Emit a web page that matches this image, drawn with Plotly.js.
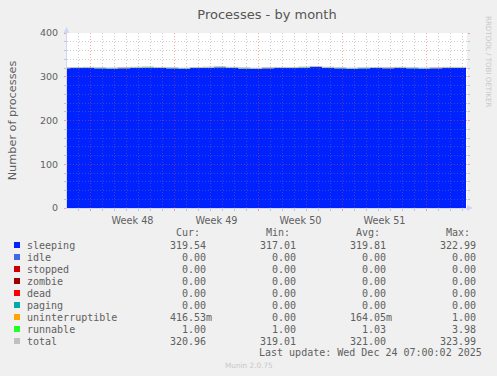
<!DOCTYPE html>
<html><head><meta charset="utf-8">
<script src="https://cdn.plot.ly/plotly-3.0.1.min.js"></script>
<style>html,body{margin:0;padding:0;background:#f0f0f0;}#chart{width:497px;height:376px;}</style>
</head><body><div id="chart"></div>
<script>
// ---------- data ----------
const times = ["2025-11-22 01:00","2025-11-22 07:00","2025-11-23 07:00","2025-11-24 07:00","2025-11-25 07:00","2025-11-26 07:00","2025-11-27 07:00","2025-11-28 07:00","2025-11-29 07:00","2025-11-30 07:00","2025-12-01 07:00","2025-12-02 07:00","2025-12-03 07:00","2025-12-04 07:00","2025-12-05 07:00","2025-12-06 07:00","2025-12-07 07:00","2025-12-08 07:00","2025-12-09 07:00","2025-12-10 07:00","2025-12-11 07:00","2025-12-12 07:00","2025-12-13 07:00","2025-12-14 07:00","2025-12-15 07:00","2025-12-16 07:00","2025-12-17 07:00","2025-12-18 07:00","2025-12-19 07:00","2025-12-20 07:00","2025-12-21 07:00","2025-12-22 07:00","2025-12-23 07:00","2025-12-24 07:00","2025-12-25 07:00"];
const sleeping = [319.6,319.8,320.3,319.4,318.9,319.7,320.5,321.2,320.1,319.3,318.6,319.9,320.7,321.5,320.4,319.1,318.2,319.6,320.2,319.8,320.9,322.1,320.6,319.4,318.5,319.2,320.0,319.7,320.4,319.5,318.8,319.6,320.3,319.9,319.5];
const idle = [0,0,0,0,0,0,0,0,0,0,0,0,0,0,0,0,0,0,0,0,0,0,0,0,0,0,0,0,0,0,0,0,0,0,0];
const stopped = [0,0,0,0,0,0,0,0,0,0,0,0,0,0,0,0,0,0,0,0,0,0,0,0,0,0,0,0,0,0,0,0,0,0,0];
const zombie = [0,0,0,0,0,0,0,0,0,0,0,0,0,0,0,0,0,0,0,0,0,0,0,0,0,0,0,0,0,0,0,0,0,0,0];
const dead = [0,0,0,0,0,0,0,0,0,0,0,0,0,0,0,0,0,0,0,0,0,0,0,0,0,0,0,0,0,0,0,0,0,0,0];
const paging = [0,0,0,0,0,0,0,0,0,0,0,0,0,0,0,0,0,0,0,0,0,0,0,0,0,0,0,0,0,0,0,0,0,0,0];
const uninterruptible = [0.12,0.15,0.18,0.10,0.14,0.20,0.16,0.13,0.19,0.22,0.15,0.12,0.17,0.14,0.16,0.21,0.18,0.13,0.15,0.17,0.19,0.14,0.16,0.12,0.18,0.15,0.20,0.16,0.14,0.17,0.13,0.19,0.22,0.35,0.42];
const runnable = [1.02,1.03,1.05,1.02,1.01,1.04,1.03,1.06,1.02,1.03,1.01,1.04,1.02,1.05,1.03,1.02,1.01,1.03,1.04,1.02,1.06,1.03,1.02,1.01,1.04,1.03,1.02,1.05,1.03,1.02,1.04,1.03,1.02,1.01,1.00];
const total = [320.74,320.98,321.53,320.52,320.05,320.94,321.69,322.39,321.31,320.55,319.76,321.06,321.89,322.69,321.59,320.33,319.39,320.76,321.39,320.99,322.15,323.27,321.78,320.53,319.72,320.38,321.22,320.91,321.57,320.69,319.97,320.82,321.54,321.26,320.92];

const seriesNames = ["sleeping","idle","stopped","zombie","dead","paging","uninterruptible","runnable","total"];
const seriesColors = ["#0022ff","#4169e1","#cc0000","#990000","#ff0000","#00aaaa","#ffa500","#22ff22","#c0c0c0"];
const curValues = ["319.54","0.00","0.00","0.00","0.00","0.00","416.53m","1.00","320.96"];
const minValues = ["317.01","0.00","0.00","0.00","0.00","0.00","0.00","1.00","319.01"];
const avgValues = ["319.81","0.00","0.00","0.00","0.00","0.00","164.05m","1.03","321.00"];
const maxValues = ["322.99","0.00","0.00","0.00","0.00","0.00","1.00","3.98","323.99"];
const colHeaders = ["Cur:","Min:","Avg:","Max:"];

const weekTickVals = ["2025-11-27 12:00","2025-12-04 12:00","2025-12-11 12:00","2025-12-18 12:00"];
const weekTickText = ["Week 48","Week 49","Week 50","Week 51"];
const yTickVals = [0,100,200,300,400];
const xRange = ["2025-11-22 01:00","2025-12-25 09:00"];
const yRange = [0,400];

// ---------- layout helpers ----------
const W=497, H=376, PL=67, PR=467, PT=33, PB=208;
const px2x = p => (p-PL)/(PR-PL);
const py2y = p => (PB-p)/(PB-PT);
const FONT = "DejaVu Sans, Verdana, sans-serif";
const MONO = "DejaVu Sans Mono, monospace";
const TXT = "#606060";

const stackSeries = [sleeping, idle, stopped, zombie, dead, paging, uninterruptible, runnable];
const traces = stackSeries.map((s,i)=>({
  type:"scatter", mode:"lines", x:times, y:s, name:seriesNames[i],
  stackgroup:"procs", line:{width:0, color:seriesColors[i], shape:"hv"},
  fillcolor:seriesColors[i], xaxis:"x", yaxis:"y", hoverinfo:"skip"
}));
traces.push({type:"scatter", mode:"lines", x:times, y:total, name:seriesNames[8],
  line:{width:1, color:seriesColors[8], shape:"hv"}, xaxis:"x", yaxis:"y", hoverinfo:"skip"});
// empty trace for grid overlay subplot
traces.push({type:"scatter", mode:"lines", x:[], y:[], xaxis:"x2", yaxis:"y2", showlegend:false, hoverinfo:"skip"});

const annotations = [];
const shapes = [];
// white canvas
shapes.push({type:"rect", xref:"x domain", yref:"y domain", x0:0, x1:1, y0:0, y1:1, fillcolor:"#ffffff", line:{width:0}, layer:"below"});

// legend table
const colRight = [206.5, 296.5, 386.5, 476.5];
const rowY0 = 245, rowStep = 12, headerY = 232;
colHeaders.forEach((h,j)=>annotations.push({xref:"paper", yref:"paper", x:px2x(colRight[j]-6), y:py2y(headerY), xanchor:"right", yanchor:"middle", text:h, showarrow:false, font:{family:MONO, size:10, color:TXT}, borderpad:0}));
const cols = [curValues, minValues, avgValues, maxValues];
seriesNames.forEach((n,i)=>{
  const yc = rowY0 + i*rowStep;
  shapes.push({type:"rect", xref:"paper", yref:"paper", x0:px2x(14), x1:px2x(20), y0:py2y(yc+3), y1:py2y(yc-3), fillcolor:seriesColors[i], line:{width:0}});
  annotations.push({xref:"paper", yref:"paper", x:px2x(26), y:py2y(yc), xanchor:"left", yanchor:"middle", text:n, showarrow:false, font:{family:MONO, size:10, color:TXT}, borderpad:0});
  cols.forEach((c,j)=>{
    const v = c[i];
    const shift = /[a-zA-Z]$/.test(v) ? 6 : 0;
    annotations.push({xref:"paper", yref:"paper", x:px2x(colRight[j]+shift), y:py2y(yc), xanchor:"right", yanchor:"middle", text:v, showarrow:false, font:{family:MONO, size:10, color:TXT}, borderpad:0});
  });
});
annotations.push({xref:"paper", yref:"paper", x:px2x(483), y:py2y(352.5), xanchor:"right", yanchor:"middle", text:"Last update: Wed Dec 24 07:00:02 2025", showarrow:false, font:{family:MONO, size:10, color:TXT}, borderpad:0});
annotations.push({xref:"paper", yref:"paper", x:px2x(248.7), y:py2y(365.3), xanchor:"center", yanchor:"middle", text:"Munin 2.0.75", showarrow:false, font:{family:FONT, size:7.3, color:"#c8c8c8"}, borderpad:0});
annotations.push({xref:"paper", yref:"paper", x:px2x(489), y:py2y(61), xanchor:"center", yanchor:"middle", text:"RRDTOOL / TOBI OETIKER", textangle:90, showarrow:false, font:{family:FONT, size:7.1, color:"#c8c8c8"}, borderpad:0});
// axis arrows
annotations.push({xref:"paper", yref:"paper", x:px2x(66.5), y:py2y(27), ax:0, ay:8, text:"", showarrow:true, arrowhead:2, arrowsize:1.2, arrowwidth:1, arrowcolor:"#CFD6F8"});
annotations.push({xref:"paper", yref:"paper", x:px2x(473), y:py2y(208), ax:-8, ay:0, text:"", showarrow:true, arrowhead:2, arrowsize:1.2, arrowwidth:1, arrowcolor:"#CFD6F8"});

const gridMinor = "rgba(128,128,128,0.4)";
const gridMajor = "rgba(255,60,60,0.45)";
const DAY = 86400000;

const layout = {
  width:W, height:H,
  margin:{l:PL, r:W-PR, t:PT, b:H-PB, pad:0},
  paper_bgcolor:"#f0f0f0", plot_bgcolor:"rgba(0,0,0,0)",
  showlegend:false,
  title:{text:"Processes - by month", x:0.5, xref:"paper", xanchor:"center", y:1-14/H, yanchor:"middle", font:{family:FONT, size:13, color:"#555555"}},
  xaxis:{type:"date", range:xRange, domain:[0,1], anchor:"y", tickmode:"array", tickvals:weekTickVals, ticktext:weekTickText,
    showgrid:false, zeroline:false, ticks:"", showline:true, linecolor:"#CFD6F8", linewidth:1,
    tickfont:{family:FONT, size:9.7, color:TXT}, ticklabelstandoff:3, fixedrange:true},
  yaxis:{range:yRange, domain:[0,1], anchor:"x", tickmode:"array", tickvals:yTickVals, showgrid:false, zeroline:false,
    ticks:"", showline:true, linecolor:"#CFD6F8", linewidth:1, ticklabelstandoff:6,
    tickfont:{family:FONT, size:9.5, color:TXT},
    title:{text:"Number of processes", font:{family:FONT, size:11.3, color:TXT}, standoff:21}, fixedrange:true},
  xaxis2:{type:"date", range:xRange, domain:[0,1], anchor:"y2", showticklabels:false, zeroline:false,
    tick0:"2025-11-24", dtick:7*DAY, showgrid:true, gridcolor:gridMajor, griddash:"1px,2px", gridwidth:1,
    ticks:"outside", ticklen:2, tickcolor:gridMajor, tickwidth:1,
    minor:{tick0:"2025-11-24", dtick:DAY, showgrid:true, gridcolor:gridMinor, griddash:"1px,2px", gridwidth:1, ticks:"outside", ticklen:2, tickcolor:gridMinor},
    showline:false, fixedrange:true},
  yaxis2:{range:yRange, domain:[0,1], anchor:"x2", showticklabels:false, zeroline:false,
    dtick:100, tick0:0, showgrid:true, gridcolor:gridMajor, griddash:"1px,2px", gridwidth:1,
    ticks:"outside", ticklen:2, tickcolor:gridMajor, mirror:"ticks",
    minor:{dtick:20, tick0:0, showgrid:true, gridcolor:gridMinor, griddash:"1px,2px", gridwidth:1, ticks:"outside", ticklen:2, tickcolor:gridMinor},
    showline:false, fixedrange:true},
  shapes:shapes, annotations:annotations
};
Plotly.newPlot("chart", traces, layout, {staticPlot:true, displayModeBar:false});
</script></body></html>
